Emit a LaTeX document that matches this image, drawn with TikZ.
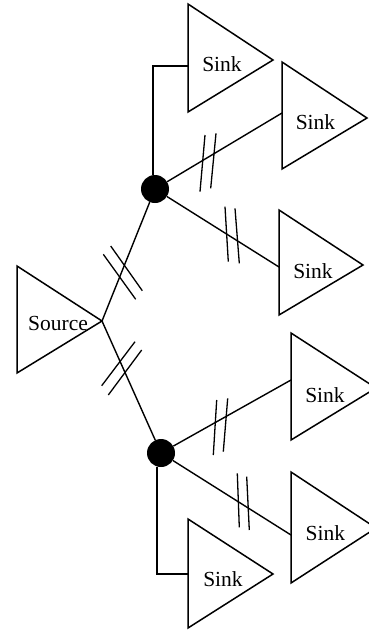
\documentclass[tikz,border=0pt]{standalone}
\usepackage{fontspec}
\setmainfont{Liberation Serif}
\begin{document}
\begin{tikzpicture}[x=1pt, y=-1pt,
  tri/.style={line width=1.5pt, line join=miter},
  wire/.style={line width=1.4pt},
  tick/.style={line width=1.3pt},
  sinktext/.style={font=\fontsize{21.5}{24}\selectfont, anchor=base, inner sep=0pt},
  junction/.style={circle, fill=black, draw=none, inner sep=0pt, minimum size=28pt}]
\useasboundingbox (0,0) rectangle (368,635);

% source amplifier
\draw[tri] (17,266) -- (17,373) -- (102,321) -- cycle;
\coordinate (src) at (102,321);
\node[sinktext] (srclabel) at (58,330.7) {Source};

% sink amplifiers with their input points
\draw[tri] (188,4) -- (188,112) -- (273,60) -- cycle;
\coordinate (in1) at (188,66);
\node[sinktext] (t1) at (222,71.7) {Sink};

\draw[tri] (282,62) -- (282,169) -- (367,118) -- cycle;
\coordinate (in2) at (282,113);
\node[sinktext] (t2) at (315.5,129.3) {Sink};

\draw[tri] (279,210) -- (279,315) -- (363,265) -- cycle;
\coordinate (in3) at (279,267);
\node[sinktext] (t3) at (313,278) {Sink};

\draw[tri] (291,333) -- (291,440) -- (376,388) -- cycle;
\coordinate (in4) at (291,380);
\node[sinktext] (t4) at (325,402) {Sink};

\draw[tri] (291,472) -- (291,583) -- (376,528) -- cycle;
\coordinate (in5) at (291,535);
\node[sinktext] (t5) at (325.3,540.7) {Sink};

\draw[tri] (188,519) -- (188,628) -- (273,574) -- cycle;
\coordinate (in6) at (188,574);
\node[sinktext] (t6) at (223,586) {Sink};

% branching points
\node[junction] (ja) at (155,189) {};
\node[junction] (jb) at (161,453) {};

% interconnect
\draw[wire] (src) -- (ja);
\draw[wire] (src) -- (jb);
\draw[wire] (ja) -- (in2);
\draw[wire] (ja) -- (in3);
\draw[wire] (jb) -- (in4);
\draw[wire] (jb) -- (in5);
\draw[wire] (ja.98) |- (in1);
\draw[wire] (jb.253) |- (in6);

% double-slash marks on the long segments
\draw[tick] (103.3,254.3) -- (135.7,299.3);
\draw[tick] (110.7,246.0) -- (142.3,290.7);
\draw[tick] (101.7,385.7) -- (135.0,341.7);
\draw[tick] (108.3,395.0) -- (141.7,350.0);
\draw[tick] (200.0,191.7) -- (205.0,135.0);
\draw[tick] (210.7,188.3) -- (216.0,133.3);
\draw[tick] (228.3,261.7) -- (225.0,206.7);
\draw[tick] (239.3,263.3) -- (235.0,208.3);
\draw[tick] (213.3,455.0) -- (216.7,400.0);
\draw[tick] (223.3,451.7) -- (227.7,398.3);
\draw[tick] (237.3,473.3) -- (239.3,527.3);
\draw[tick] (246.7,476.7) -- (249.3,530.0);
\end{tikzpicture}
\end{document}
